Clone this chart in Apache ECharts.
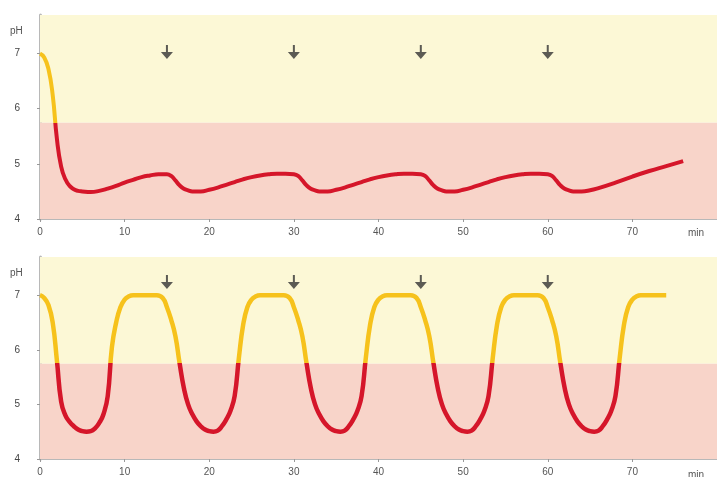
<!DOCTYPE html>
<html><head><meta charset="utf-8">
<script src="https://cdn.jsdelivr.net/npm/echarts@6/dist/echarts.min.js"></script>
<style>html,body{margin:0;padding:0;background:#fff}#c{width:717px;height:477px}</style>
</head><body><div id="c"></div>
<script>
// top panel: pH over time (min)
const topTime = [0,0.5,1,1.5,2,2.5,3,3.5,4,4.5,5,6,7,8,9,10,11,12,13,14,15,
  15.5,16,16.5,17,17.5,18,19,20,21,22,23,24,25,26,27,28,29,30,
  30.5,31,31.5,32,32.5,33,34,35,36,37,38,39,40,41,42,43,44,45,
  45.5,46,46.5,47,47.5,48,49,50,51,52,53,54,55,56,57,58,59,60,
  60.5,61,61.5,62,62.5,63,64,65,66,68,70,72,74,76];
const topPH = [7,6.93,6.72,6.25,5.45,4.95,4.72,4.6,4.54,4.51,4.5,4.49,4.51,4.55,4.6,4.66,4.71,4.76,4.79,4.81,4.81,
  4.78,4.7,4.61,4.55,4.52,4.5,4.5,4.53,4.57,4.62,4.67,4.72,4.76,4.79,4.81,4.82,4.82,4.81,
  4.78,4.7,4.61,4.55,4.52,4.5,4.5,4.53,4.57,4.62,4.67,4.72,4.76,4.79,4.81,4.82,4.82,4.81,
  4.78,4.7,4.61,4.55,4.52,4.5,4.5,4.53,4.57,4.62,4.67,4.72,4.76,4.79,4.81,4.82,4.82,4.81,
  4.78,4.7,4.61,4.55,4.52,4.5,4.5,4.52,4.56,4.66,4.77,4.87,4.96,5.05];
// bottom panel
const botTime = [0,0.5,1,1.5,2,2.5,3,3.5,4,4.5,5,5.5,6,6.5,7,7.5,8,8.5,9,9.5,10,10.5,11,
  13.8,14.5,15,15.5,16,16.5,17,17.5,18,18.5,19,19.5,20,20.5,21,21.5,22,22.5,23,23.5,24,24.5,25,25.5,26,
  28.8,29.5,30,30.5,31,31.5,32,32.5,33,33.5,34,34.5,35,35.5,36,36.5,37,37.5,38,38.5,39,39.5,40,40.5,41,
  43.8,44.5,45,45.5,46,46.5,47,47.5,48,48.5,49,49.5,50,50.5,51,51.5,52,52.5,53,53.5,54,54.5,55,55.5,56,
  58.8,59.5,60,60.5,61,61.5,62,62.5,63,63.5,64,64.5,65,65.5,66,66.5,67,67.5,68,68.5,69,69.5,70,70.5,71,74];
const botPH = [7,6.95,6.82,6.5,5.8,5.05,4.8,4.68,4.6,4.54,4.51,4.5,4.51,4.56,4.66,4.82,5.15,6.05,6.5,6.78,6.92,6.98,7.0,
  7.0,6.95,6.78,6.55,6.25,5.75,5.3,5.0,4.82,4.69,4.6,4.54,4.51,4.5,4.52,4.6,4.72,4.88,5.15,5.85,6.45,6.78,6.92,6.98,7.0,
  7.0,6.95,6.78,6.55,6.25,5.75,5.3,5.0,4.82,4.69,4.6,4.54,4.51,4.5,4.52,4.6,4.72,4.88,5.15,5.85,6.45,6.78,6.92,6.98,7.0,
  7.0,6.95,6.78,6.55,6.25,5.75,5.3,5.0,4.82,4.69,4.6,4.54,4.51,4.5,4.52,4.6,4.72,4.88,5.15,5.85,6.45,6.78,6.92,6.98,7.0,
  7.0,6.95,6.78,6.55,6.25,5.75,5.3,5.0,4.82,4.69,4.6,4.54,4.51,4.5,4.52,4.6,4.72,4.88,5.15,5.85,6.45,6.78,6.92,6.98,7.0,7.0];
const arrowTimes = [15,30,45,60];
const arrowTopPH = 7.03;
const arrowBotPH = 7.24;
const xTicks = [0,10,20,30,40,50,60,70];
const yTicks = [4,5,6,7];
const threshold = 5.75;

const zip = (a,b)=>a.map((v,i)=>[v,b[i]]);
const chart = echarts.init(document.getElementById('c'));
const font = 'Liberation Sans, Arial, sans-serif';
const arrowPath = 'path://M5,0 L7,0 L7,7 L12,7 L6,14 L0,7 L5,7 Z';

function xAx(gi){return {type:'value',gridIndex:gi,min:0,max:80,interval:10,
  axisLine:{lineStyle:{color:'#b8b8b8',width:2}},
  axisTick:{customValues:xTicks,length:3,lineStyle:{color:'#999'}},
  axisLabel:{customValues:xTicks,color:'#555',fontSize:10,fontFamily:font,margin:8},
  splitLine:{show:false}};}
function yAx(gi){return {type:'value',gridIndex:gi,min:4,max:7.7,interval:1,
  axisLine:{show:true,lineStyle:{color:'#b8b8b8',width:3}},
  axisTick:{show:true,customValues:yTicks,length:3,lineStyle:{color:'#999'}},
  axisLabel:{customValues:yTicks,color:'#444',fontSize:10,fontFamily:font,margin:20},
  splitLine:{show:false}};}
const bands = {silent:true,data:[
  [{yAxis:4,itemStyle:{color:'#f8d4c9'}},{yAxis:threshold}],
  [{yAxis:threshold,itemStyle:{color:'#fcf8d6'}},{yAxis:7.7}]]};

chart.setOption({
  animation:false,
  grid:[{left:40,top:15,right:0,height:204},{left:40,top:257,right:0,height:204}],
  xAxis:[xAx(0),xAx(1)],
  yAxis:[yAx(0),yAx(1)],
  visualMap:{show:false,type:'piecewise',seriesIndex:[0,1],dimension:1,
    pieces:[{gte:0,lt:threshold,color:'#d5162a'},{gte:threshold,lte:14,color:'#f6c21c'}],
    outOfRange:{color:'#d5162a'}},
  graphic:[
    {type:'text',left:10,top:26,style:{text:'pH',fill:'#555',font:'10px '+font}},
    {type:'text',left:10,top:268,style:{text:'pH',fill:'#555',font:'10px '+font}},
    {type:'text',left:688,top:228,style:{text:'min',fill:'#555',font:'10px '+font}},
    {type:'text',left:688,top:470,style:{text:'min',fill:'#555',font:'10px '+font}}
  ],
  series:[
    {type:'line',xAxisIndex:0,yAxisIndex:0,data:zip(topTime,topPH),smooth:0.5,showSymbol:false,
     lineStyle:{width:4},markArea:bands,z:3},
    {type:'line',xAxisIndex:1,yAxisIndex:1,data:zip(botTime,botPH),smooth:0.5,showSymbol:false,
     lineStyle:{width:4.5},markArea:bands,z:3},
    {type:'scatter',xAxisIndex:0,yAxisIndex:0,symbol:arrowPath,symbolSize:[12,14],
     itemStyle:{color:'#333'},data:arrowTimes.map(t=>[t,arrowTopPH]),z:4},
    {type:'scatter',xAxisIndex:1,yAxisIndex:1,symbol:arrowPath,symbolSize:[12,14],
     itemStyle:{color:'#333'},data:arrowTimes.map(t=>[t,arrowBotPH]),z:4}
  ]
});
</script></body></html>
